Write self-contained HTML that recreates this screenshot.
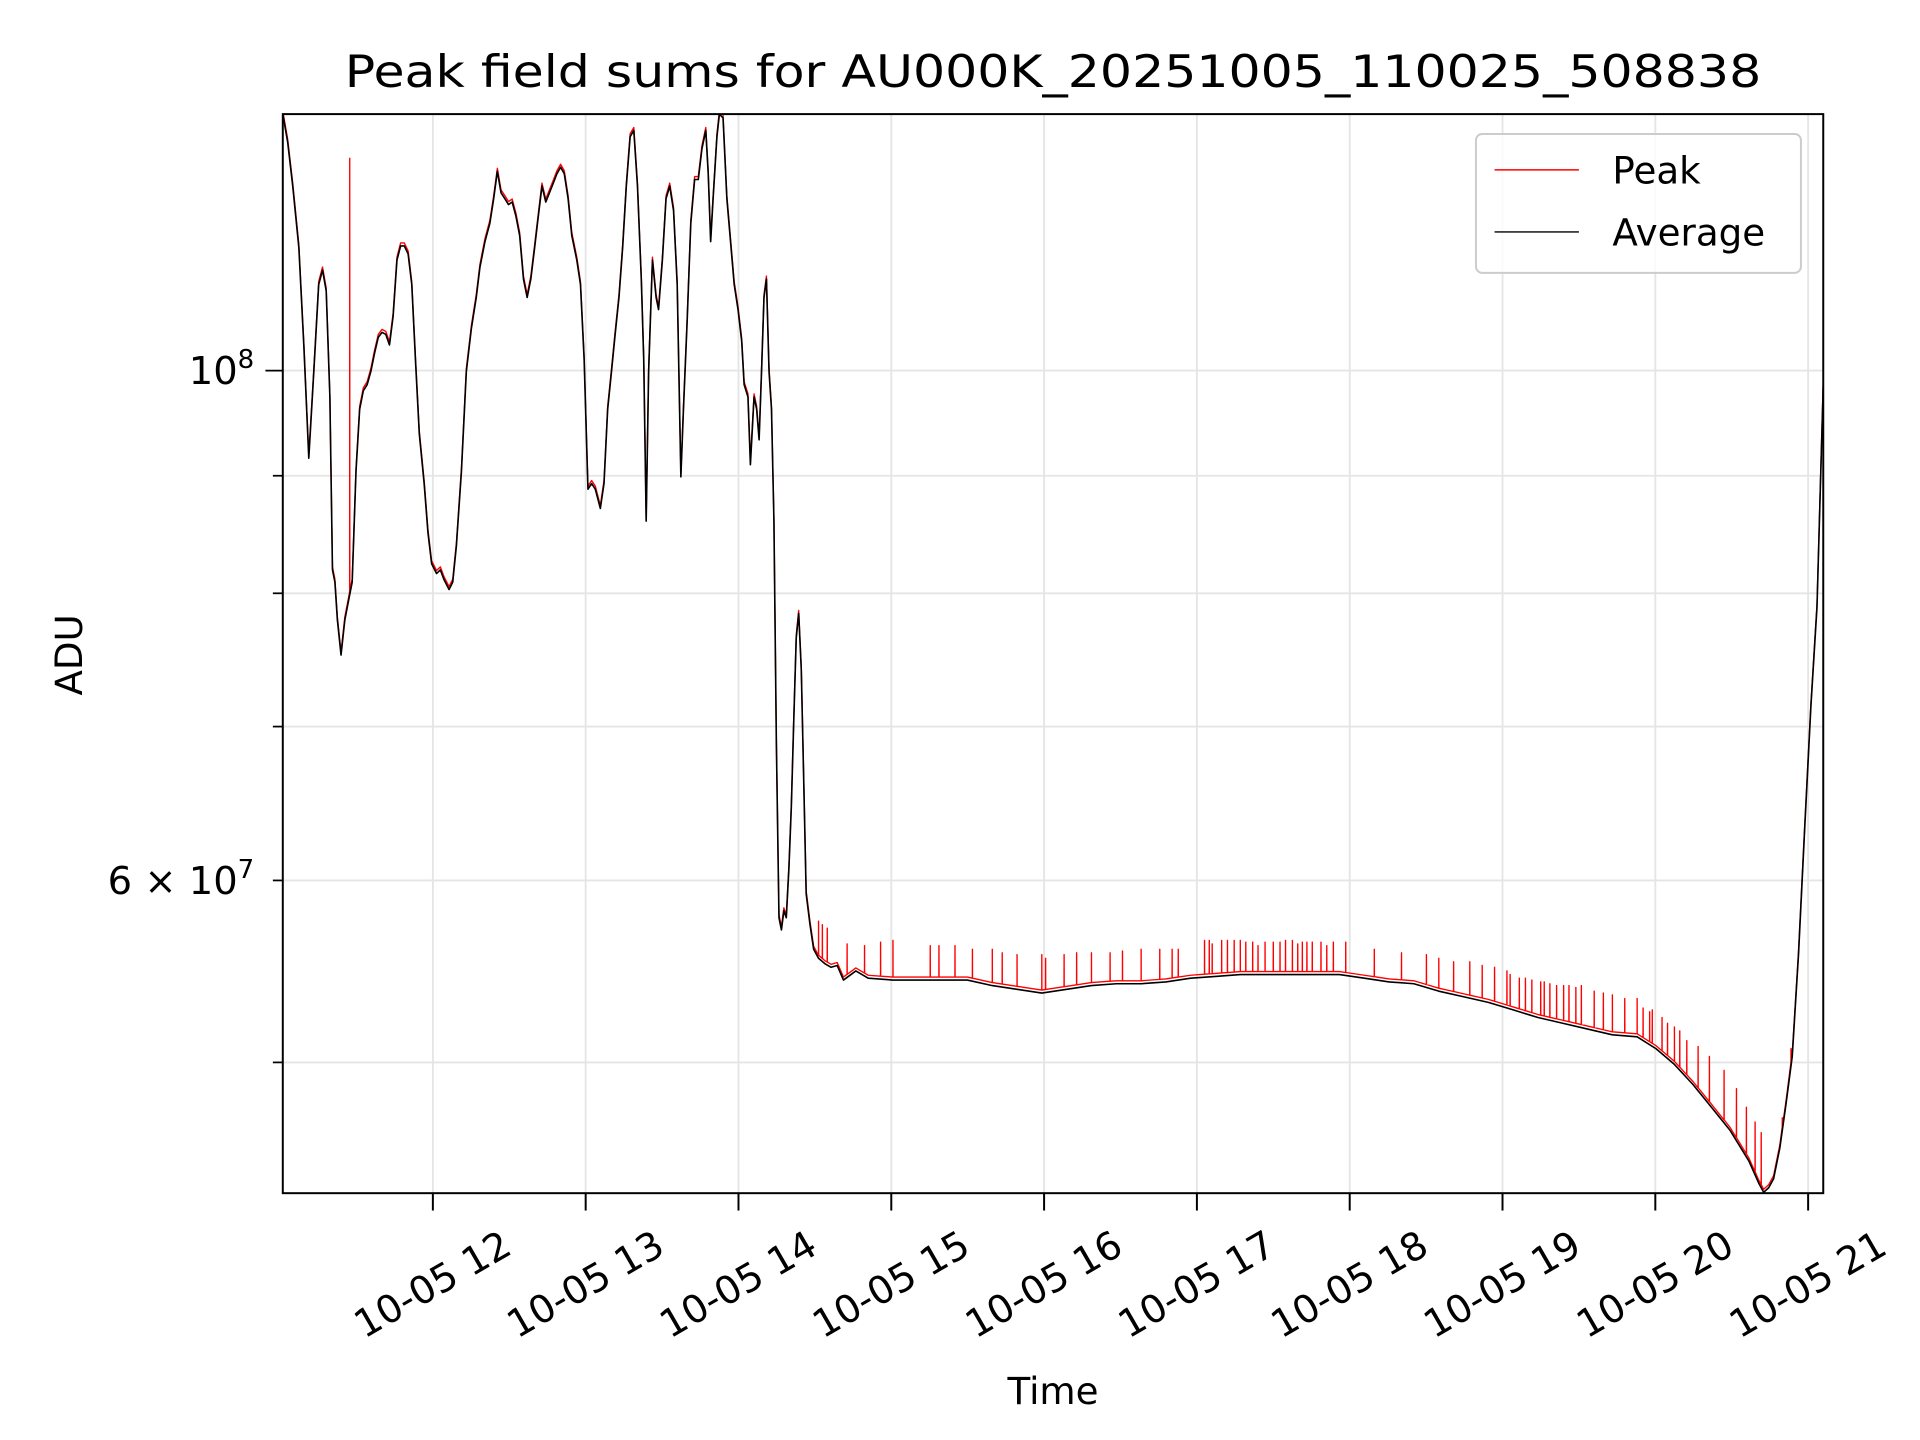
<!DOCTYPE html>
<html><head><meta charset="utf-8"><title>Peak field sums</title>
<style>
html,body{margin:0;padding:0;background:#fff;}
svg{display:block;}
text{font-family:"DejaVu Sans","Liberation Sans",sans-serif;fill:#000;}
</style></head>
<body>
<svg id="chart" width="1920" height="1440" viewBox="0 0 1548 1161" preserveAspectRatio="none" xmlns="http://www.w3.org/2000/svg">
<rect x="0" y="0" width="1548" height="1161" fill="#fff"/>
<g id="grid"></g>
<g id="series" clip-path="url(#clip)"></g>
<defs><clipPath id="clip"><rect x="228" y="92" width="1242" height="870"/></clipPath></defs>
<rect x="228" y="92" width="1242" height="870" fill="none" stroke="#000" stroke-width="1.6"/>
<g id="axes"></g>
<text x="849" y="70" font-size="36" text-anchor="middle" textLength="1142" lengthAdjust="spacingAndGlyphs">Peak field sums for AU000K_20251005_110025_508838</text>
<text x="849" y="1132" font-size="30" text-anchor="middle">Time</text>
<text transform="translate(66,528) rotate(-90)" font-size="30" text-anchor="middle">ADU</text>
<g>
<rect x="1190" y="108" width="262" height="112" rx="5" fill="#fff" fill-opacity="0.8" stroke="#ccc" stroke-width="1.6"/>
<line x1="1205" y1="137" x2="1273" y2="137" stroke="#f00" stroke-width="1.2"/>
<text x="1300" y="148" font-size="30">Peak</text>
<line x1="1205" y1="187" x2="1273" y2="187" stroke="#000" stroke-width="1.2"/>
<text x="1300" y="198" font-size="30">Average</text>
</g>
</svg>
<script>
// time in hours on 2025-10-05, values in millions of ADU
const avgTimes = [11.018,11.050,11.083,11.123,11.156,11.188,11.221,11.253,11.278,11.302,11.326,11.343,11.359,11.375,11.399,11.424,11.448,11.472,11.497,11.521,11.545,11.570,11.594,11.619,11.643,11.667,11.692,11.716,11.740,11.765,11.789,11.813,11.838,11.862,11.886,11.911,11.943,11.968,11.992,12.024,12.049,12.073,12.106,12.130,12.154,12.187,12.219,12.252,12.284,12.308,12.341,12.373,12.398,12.422,12.446,12.471,12.495,12.519,12.544,12.568,12.593,12.617,12.641,12.666,12.690,12.714,12.739,12.763,12.787,12.812,12.836,12.860,12.885,12.909,12.942,12.966,12.990,13.015,13.039,13.063,13.096,13.120,13.144,13.169,13.193,13.218,13.242,13.266,13.291,13.315,13.339,13.364,13.380,13.396,13.412,13.437,13.461,13.477,13.502,13.526,13.550,13.575,13.599,13.623,13.640,13.664,13.688,13.713,13.737,13.761,13.786,13.802,13.818,13.834,13.859,13.875,13.899,13.924,13.948,13.972,13.997,14.021,14.037,14.062,14.078,14.102,14.119,14.135,14.151,14.167,14.183,14.200,14.216,14.232,14.248,14.265,14.281,14.297,14.313,14.330,14.346,14.362,14.378,14.394,14.411,14.427,14.443,14.468,14.492,14.524,14.565,14.606,14.646,14.687,14.768,14.849,15.011,15.174,15.336,15.498,15.661,15.823,15.985,16.148,16.310,16.472,16.635,16.797,16.959,17.122,17.284,17.446,17.609,17.771,17.933,18.096,18.258,18.420,18.583,18.745,18.907,19.070,19.232,19.394,19.557,19.719,19.881,20.003,20.125,20.247,20.368,20.490,20.612,20.677,20.709,20.742,20.774,20.815,20.856,20.896,20.937,20.977,21.018,21.058,21.099];
const avgValues = [129.3,125.7,120.3,113.1,102.4,91.6,99.9,109.0,110.6,108.3,97.4,81.9,80.9,77.9,75.2,77.9,79.4,80.9,90.4,96.2,98.0,98.6,99.9,101.8,103.4,103.9,103.7,102.6,105.6,111.7,113.3,113.3,112.4,109.0,101.1,93.9,89.3,85.0,82.4,81.6,81.9,81.1,80.3,80.9,83.9,90.4,99.9,104.3,107.6,110.9,113.8,115.9,118.8,122.1,119.5,118.8,118.1,118.4,116.7,114.5,109.6,107.6,109.6,113.1,116.7,120.3,118.4,119.5,120.6,121.8,122.6,121.8,118.8,114.5,111.7,109.0,101.1,88.8,89.3,88.8,87.1,89.3,96.2,99.9,103.7,107.6,113.1,120.3,126.4,127.2,120.3,109.6,101.1,86.0,99.9,111.7,107.6,106.3,111.7,118.8,120.3,117.4,109.0,89.9,96.2,105.0,115.9,121.1,121.1,124.9,127.2,121.8,113.8,118.8,126.4,129.3,128.8,118.8,113.8,109.0,106.3,103.0,98.6,97.4,91.0,97.4,96.2,93.3,99.9,107.6,109.6,99.9,96.2,86.0,68.8,57.8,57.1,58.2,57.8,60.7,64.6,70.5,76.5,78.4,74.1,66.3,59.2,57.4,56.0,55.5,55.2,55.0,55.1,54.3,54.8,54.4,54.3,54.3,54.3,54.3,54.0,53.8,53.6,53.8,54.0,54.1,54.1,54.2,54.4,54.5,54.6,54.6,54.6,54.6,54.6,54.4,54.2,54.1,53.7,53.4,53.1,52.7,52.3,52.0,51.7,51.4,51.3,50.7,49.9,48.9,47.8,46.7,45.3,44.3,43.9,44.1,44.5,45.9,48.0,50.3,55.7,63.1,71.4,78.9,98.6];
const spikeTimes = [11.456,14.524,14.549,14.581,14.711,14.825,14.930,15.011,15.255,15.312,15.417,15.531,15.661,15.726,15.823,15.985,16.010,16.131,16.213,16.310,16.432,16.513,16.635,16.757,16.838,16.878,17.081,17.162,17.244,17.284,17.365,17.446,17.544,17.625,17.690,17.755,17.812,17.893,17.974,18.161,18.339,18.502,18.583,18.680,18.786,18.867,18.948,19.029,19.110,19.192,19.273,19.354,19.435,19.516,19.719,19.800,19.881,19.963,20.044,20.125,20.206,20.354,20.450,20.531,20.596,20.653,20.693,20.831,20.888,17.05,17.10,17.20,17.32,17.40,17.50,17.58,17.66,17.72,17.85,19.05,19.15,19.25,19.31,19.40,19.48,19.60,19.66,19.92,19.98,20.08,20.16,20.28];
const spikeValues = [123.7,57.6,57.4,57.2,56.3,56.2,56.4,56.5,56.2,56.2,56.2,56.0,56.0,55.8,55.7,55.7,55.5,55.7,55.8,55.8,55.8,55.9,56.0,56.0,56.0,56.0,56.5,56.5,56.5,56.5,56.4,56.4,56.4,56.5,56.4,56.4,56.4,56.4,56.4,56.0,55.8,55.7,55.5,55.3,55.3,55.1,55.0,54.8,54.4,54.3,54.2,54.0,54.0,54.0,53.5,53.3,53.3,52.6,52.3,51.8,51.1,50.3,49.6,48.7,47.8,47.1,46.6,47.3,50.7,56.5,56.3,56.5,56.4,56.2,56.4,56.5,56.3,56.4,56.2,54.6,54.4,54.2,54.1,54.0,53.9,53.7,53.6,52.8,52.7,52.0,51.6,50.8];
const xTickHours = [12,13,14,15,16,17,18,19,20,21];
const xTickLabels = ["10-05 12","10-05 13","10-05 14","10-05 15","10-05 16","10-05 17","10-05 18","10-05 19","10-05 20","10-05 21"];
const yMajorTicks = [100];
const yMinorTicks = [50,60,70,80,90];

const X0=228,X1=1470,Y0=92,Y1=962;
const tMin=11.0179,tMax=21.0990,vMin=43.86,vMax=129.3;
function xs(t){return X0+(t-tMin)/(tMax-tMin)*(X1-X0);}
function ys(v){return Y1-(Math.log10(v)-Math.log10(vMin))/(Math.log10(vMax)-Math.log10(vMin))*(Y1-Y0);}
function interpAvg(t){
  for(let i=1;i<avgTimes.length;i++){if(avgTimes[i]>=t){const f=(t-avgTimes[i-1])/(avgTimes[i]-avgTimes[i-1]);return avgValues[i-1]+f*(avgValues[i]-avgValues[i-1]);}}
  return avgValues[avgValues.length-1];
}
const NS="http://www.w3.org/2000/svg";
function mk(tag,attrs,parent){const e=document.createElementNS(NS,tag);for(const k in attrs)e.setAttribute(k,attrs[k]);parent.appendChild(e);return e;}
const grid=document.getElementById('grid'),axes=document.getElementById('axes'),series=document.getElementById('series');

xTickHours.forEach((h,i)=>{
  const x=xs(h);
  const g=mk('line',{x1:x,y1:Y0,x2:x,y2:Y1,stroke:'#e5e5e5','stroke-width':1.5},grid);
  
  
  const t=mk('line',{x1:x,y1:Y1,x2:x,y2:Y1+14,stroke:'#000','stroke-width':1.6},axes);
  
  
  const lb=mk('text',{x:0,y:0,'font-size':31,'text-anchor':'middle','dominant-baseline':'central',transform:`translate(${x},1036) rotate(-30)`},axes);
  lb.textContent=xTickLabels[i];
  
  
});
yMajorTicks.concat(yMinorTicks).forEach(v=>{
  const y=ys(v);
  const g=mk('line',{x1:X0,y1:y,x2:X1,y2:y,stroke:'#e5e5e5','stroke-width':1.5},grid);
  
  
  const major=yMajorTicks.includes(v);
  const t=mk('line',{x1:X0-(major?14:8),y1:y,x2:X0,y2:y,stroke:'#000','stroke-width':1.4},axes);
  
  
});
function yLabel(v,html,name){
  const lb=mk('text',{x:205,y:ys(v)+11,'font-size':31,'text-anchor':'end'},axes);
  lb.innerHTML=html;
  
  
}
yLabel(100,'10<tspan font-size="21" dy="-13">8</tspan>','y-tick-label-1e8');
yLabel(60,'6 × 10<tspan font-size="21" dy="-13">7</tspan>','y-tick-label-6e7');

// peak series: average baseline plus spikes
let pts=avgTimes.map((t,i)=>[t,avgValues[i]*1.003]);
spikeTimes.forEach((t,i)=>{const b=interpAvg(t)*1.003;pts.push([t-0.0005,b]);pts.push([t,spikeValues[i]]);pts.push([t+0.0005,b]);});
pts.sort((a,b)=>a[0]-b[0]);
const peak=mk('polyline',{points:pts.map(p=>xs(p[0]).toFixed(2)+','+ys(p[1]).toFixed(2)).join(' '),fill:'none',stroke:'#f00','stroke-width':1.1,'stroke-linejoin':'round'},series);


const avg=mk('polyline',{points:avgTimes.map((t,i)=>xs(t).toFixed(2)+','+ys(avgValues[i]).toFixed(2)).join(' '),fill:'none',stroke:'#000','stroke-width':1.3,'stroke-linejoin':'round'},series);


</script>
</body></html>
